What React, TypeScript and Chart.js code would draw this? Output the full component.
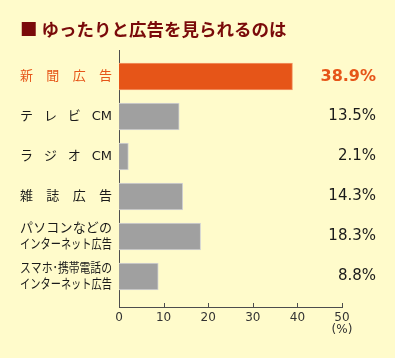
import React, { useEffect, useRef } from 'react';
import { Chart, registerables } from 'chart.js';

Chart.register(...registerables);

const title = '■ ゆったりと広告を見られるのは';
const categories: string[][] = [
  ['新聞広告'],
  ['テレビCM'],
  ['ラジオCM'],
  ['雑誌広告'],
  ['パソコンなどの', 'インターネット広告'],
  ['スマホ･携帯電話の', 'インターネット広告'],
];
const values = [38.9, 13.5, 2.1, 14.3, 18.3, 8.8];
const valueLabels = ['38.9%', '13.5%', '2.1%', '14.3%', '18.3%', '8.8%'];
const xTicks = [0, 10, 20, 30, 40, 50];
const unitLabel = '(%)';

const BG = '#FFFBCB';
const ORANGE = '#E65518';
const GRAY = '#A0A0A0';
const TITLE_COLOR = '#7A0A0A';
const AXIS = '#4d4d4d';
const JP = "'Noto Sans CJK JP'";

function drawFitted(ctx: CanvasRenderingContext2D, text: string, x: number, y: number, w: number) {
  const tokens = text.match(/[A-Za-z0-9]+|./gu) || [];
  const widths = tokens.map((t) => ctx.measureText(t).width);
  const total = widths.reduce((a, b) => a + b, 0);
  if (total >= w || tokens.length < 2) {
    ctx.fillText(text, x, y, w);
    return;
  }
  const gap = (w - total) / (tokens.length - 1);
  let cx = x;
  tokens.forEach((t, i) => {
    ctx.fillText(t, cx, y);
    cx += widths[i] + gap;
  });
}

const overlay = {
  id: 'overlay',
  afterDraw(chart: any) {
    const ctx: CanvasRenderingContext2D = chart.ctx;
    const xs = chart.scales.x;
    const ys = chart.scales.y;
    const area = chart.chartArea;
    ctx.save();
    // title
    ctx.fillStyle = TITLE_COLOR;
    ctx.font = `bold 17.5px ${JP}`;
    ctx.textAlign = 'left';
    ctx.textBaseline = 'middle';
    ctx.fillText(title, 20, 29.5);

    // inward tick marks on x axis
    ctx.strokeStyle = AXIS;
    ctx.lineWidth = 1;
    xs.ticks.forEach((t: any) => {
      const px = Math.round(xs.getPixelForValue(t.value)) + 0.5;
      ctx.beginPath();
      ctx.moveTo(px, area.bottom - 4);
      ctx.lineTo(px, area.bottom);
      ctx.stroke();
    });

    // category labels
    ctx.font = `13px 'DejaVu Sans', ${JP}`;
    categories.forEach((lines, i) => {
      const cy = ys.getPixelForValue(i);
      ctx.fillStyle = i === 0 ? ORANGE : '#1a1a1a';
      const lh = 16;
      lines.forEach((line, j) => {
        const y = cy + (j - (lines.length - 1) / 2) * lh;
        drawFitted(ctx, line, 20, y, 92);
      });
    });

    // value labels
    ctx.textAlign = 'right';
    valueLabels.forEach((lab, i) => {
      const cy = ys.getPixelForValue(i);
      ctx.fillStyle = i === 0 ? ORANGE : '#1a1a1a';
      ctx.font = i === 0 ? "bold 16px 'DejaVu Sans'" : "15px 'DejaVu Sans'";
      ctx.fillText(lab, 376, cy);
    });
    ctx.restore();
  },
};

export default function App() {
  const ref = useRef<HTMLCanvasElement>(null);
  useEffect(() => {
    document.body.style.margin = '0';
    const chart = new Chart(ref.current!, {
      type: 'bar',
      data: {
        datasets: [
          {
            data: values.map((v, i) => ({ x: v, y: i })) as any,
            backgroundColor: values.map((_, i) => (i === 0 ? ORANGE : GRAY)),
            borderColor: values.map((_, i) => (i === 0 ? '#F29A6A' : '#D4D4D4')),
            borderWidth: 1,
            barThickness: 27,
          },
        ],
      },
      options: {
        indexAxis: 'y',
        responsive: false,
        animation: false,
        layout: { padding: { top: 50, right: 53, left: 0, bottom: 0 } },
        plugins: {
          legend: { display: false },
          tooltip: { enabled: false },
          title: { display: false },
        },
        scales: {
          x: {
            type: 'linear',
            min: 0,
            max: 50,
            position: 'bottom',
            offset: false,
            afterFit: (s: any) => {
              s.height = 51;
            },
            afterBuildTicks: (s: any) => {
              s.ticks = xTicks.map((v) => ({ value: v }));
            },
            ticks: {
              padding: 5,
              color: '#333',
              autoSkip: false,
              maxRotation: 0,
              font: { family: 'DejaVu Sans', size: 12, lineHeight: 1 },
              callback: (v: any) => (Number(v) === 50 ? [String(v), unitLabel] : String(v)),
            },
            grid: { display: false, drawTicks: false },
            border: { display: true, color: AXIS, width: 1 },
          },
          y: {
            type: 'linear',
            min: -0.6625,
            max: 5.7625,
            reverse: true,
            offset: false,
            afterFit: (s: any) => {
              s.width = 119;
            },
            ticks: { display: false },
            grid: { display: false, drawTicks: false, offset: false },
            border: { display: true, color: AXIS, width: 1 },
          },
        },
      } as any,
      plugins: [overlay],
    });
    return () => chart.destroy();
  }, []);
  return (
    <div style={{ position: 'absolute', left: 0, top: 0, width: 395, height: 358, background: BG }}>
      <canvas ref={ref} width={395} height={358} style={{ display: 'block' }} />
    </div>
  );
}
